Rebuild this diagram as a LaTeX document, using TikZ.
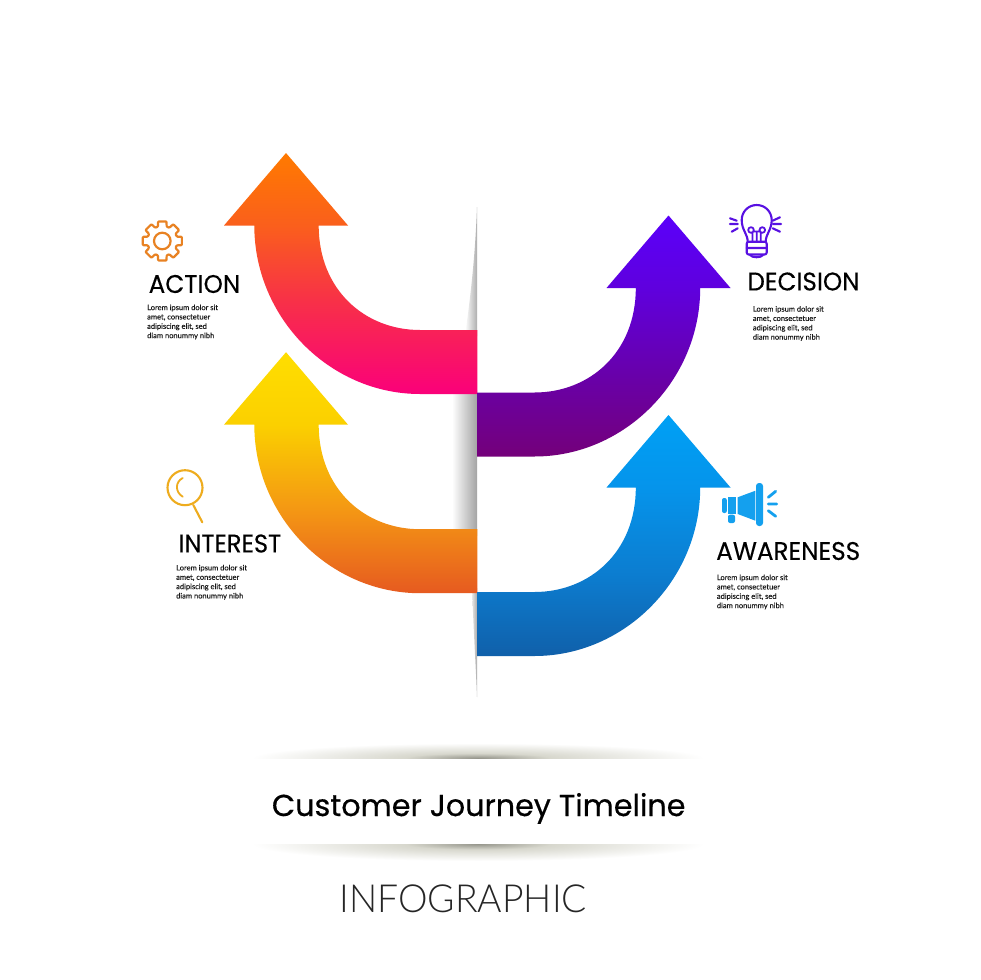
\documentclass[tikz,border=0pt]{standalone}
\usepackage{fontspec}
\usepackage{graphicx}
\setmainfont{Lato}[FakeBold=0.12]
\newfontfamily\headfont{Poppins}[FakeBold=0.2]
\newfontfamily\titlefont{Poppins}[FakeBold=0.55]
\newfontfamily\infofont{Lato Light}
\definecolor{glowcore}{RGB}{150,150,140}
\definecolor{glowmid}{RGB}{215,215,205}
\definecolor{gearcol}{RGB}{232,130,35}
\definecolor{lenscol}{RGB}{238,172,30}
\definecolor{bulbcol}{RGB}{88,16,226}
\definecolor{hornc}{RGB}{20,160,238}
\definecolor{actA}{RGB}{255,122,0}\definecolor{actB}{RGB}{250,95,28}\definecolor{actC}{RGB}{248,50,70}\definecolor{actD}{RGB}{250,0,122}
\definecolor{intA}{RGB}{255,222,0}\definecolor{intB}{RGB}{251,208,0}\definecolor{intC}{RGB}{244,150,20}\definecolor{intD}{RGB}{230,90,32}
\definecolor{decA}{RGB}{90,0,250}\definecolor{decB}{RGB}{95,0,222}\definecolor{decC}{RGB}{104,0,170}\definecolor{decD}{RGB}{116,0,122}
\definecolor{awaA}{RGB}{0,160,245}\definecolor{awaB}{RGB}{5,148,235}\definecolor{awaC}{RGB}{12,125,208}\definecolor{awaD}{RGB}{16,96,170}
% the path box maps to 25bp..75bp of the shading; the arrow runs from 0 (tip) to 241 units
\pgfdeclareverticalshading{actshade}{100bp}{color(0bp)=(actD);color(25bp)=(actD);color(45bp)=(actC);color(60bp)=(actB);color(75bp)=(actA);color(100bp)=(actA)}
\pgfdeclareverticalshading{intshade}{100bp}{color(0bp)=(intD);color(25bp)=(intD);color(42bp)=(intC);color(60bp)=(intB);color(75bp)=(intA);color(100bp)=(intA)}
\pgfdeclareverticalshading{decshade}{100bp}{color(0bp)=(decD);color(25bp)=(decD);color(42bp)=(decC);color(60bp)=(decB);color(75bp)=(decA);color(100bp)=(decA)}
\pgfdeclareverticalshading{awashade}{100bp}{color(0bp)=(awaD);color(25bp)=(awaD);color(42bp)=(awaC);color(60bp)=(awaB);color(75bp)=(awaA);color(100bp)=(awaA)}
\pgfdeclareradialshading{glowshade}{\pgfpointorigin}{color(0bp)=(glowcore);color(8bp)=(glowmid);color(25bp)=(white);color(50bp)=(white)}
\newcommand{\ArrowShape}{(286,153) -- (348,225.5) -- (318.7,225.5) .. controls (318.7,290) and (365,330) .. (420,330) -- (477.3,330) -- (477.3,394) -- (420,394) .. controls (330,394) and (254.3,318) .. (254.3,225.5) -- (224,225.5) -- cycle}
\tikzset{
  headtext/.style={inner sep=0pt,anchor=west,text=black},
  bodytext/.style={inner sep=0pt,anchor=west,align=left,text=black!90,font=\fontsize{7.5}{9.35}\selectfont},
  fold/.style={left color=white,right color=black!32},
  iconline/.style={line width=2.1pt,line cap=round,line join=round,fill=none}
}
\begin{document}
\begin{tikzpicture}[x=1pt,y=-1pt]
\useasboundingbox (0,0) rectangle (980,980);
\fill[white] (0,0) rectangle (980,980);
% fold shadow
\shade[fold] (477,207) .. controls (475,260) and (470,300) .. (465,336) -- (477,336) -- cycle;
\shade[left color=white,middle color=black!8,right color=black!36] (452,390) rectangle (477,535);
\shade[left color=black!10,right color=black!33] (472,588) -- (477,588) -- (477,697) .. controls (476,670) and (474,640) .. (472,588) -- cycle;
% arrows
\path[shading=actshade] \ArrowShape;
\begin{scope}[shift={(0,199.2)}]
\path[shading=intshade] \ArrowShape;
\end{scope}
\begin{scope}[shift={(954.5,62.5)},xscale=-1]
\path[shading=decshade] \ArrowShape;
\end{scope}
\begin{scope}[shift={(954.5,262)},xscale=-1]
\path[shading=awashade] \ArrowShape;
\end{scope}
% icons: gear
\begin{scope}[shift={(162.3,241)}]
\draw[iconline,gearcol,line width=2.2pt,rounded corners=0.8pt] (-17:15)
  \foreach \a in {0,45,...,315} { -- (\a-17:15) -- (\a-12:20) -- (\a+12:20) -- (\a+17:15) } -- cycle;
\draw[gearcol,line width=2.2pt] (0,0) circle (8.3);
\end{scope}
% magnifier
\draw[iconline,lenscol] (185,487.7) circle (17.5);
\draw[iconline,lenscol] (193.3,505) -- (202.3,522.3);
\draw[iconline,lenscol,line width=1.8pt] (182.7,478) .. controls (175,482) and (175,492) .. (182.7,496.7);
% bulb
\draw[iconline,bulbcol] (747.7,241.7) .. controls (747.7,234) and (741.7,230) .. (741.7,220) .. controls (741.7,212) and (748,205) .. (756.7,205) .. controls (765.4,205) and (771.7,212) .. (771.7,220) .. controls (771.7,230) and (765.7,234) .. (765.7,241.7);
\draw[iconline,bulbcol,line width=1.8pt] (751,230) circle (2.8) (762.3,230) circle (2.8)
  (752.5,232.5) -- (752.5,241) (760.8,232.5) -- (760.8,241) (756.7,233) -- (756.7,241) (753.5,231.5) -- (759.8,231.5);
\draw[iconline,bulbcol,rounded corners=2pt] (746.7,241.7) rectangle (766.7,254.5);
\draw[iconline,bulbcol] (746.7,248) -- (766.7,248) (750,255) .. controls (752,258) and (761,258) .. (763,255);
\draw[iconline,bulbcol] (730,218.3) -- (736.7,220.7) (730,224) -- (737.7,224) (731.7,231.7) -- (737.7,228.3)
  (772.7,220.7) -- (780,217.3) (773,224) -- (781,224) (772.7,228.3) -- (780,231.7);
% megaphone
\fill[hornc,rounded corners=3pt] (756,483) rectangle (763,526);
\fill[hornc] (755.4,490.7) -- (737.7,497.3) -- (737.7,514) -- (755.4,520.7) -- cycle;
\fill[hornc] (727.7,497) rectangle (735.9,514);
\fill[hornc,rounded corners=2pt] (726.8,498) -- (722,498) -- (722,513) -- (726.8,513) -- cycle;
\fill[hornc,rounded corners=2pt] (728,514.7) -- (735,514.7) -- (735,523) -- (728,523) -- cycle;
\draw[iconline,hornc,line width=2.8pt] (768.3,497.3) -- (775.7,491.3) (768.3,504) -- (776.7,504) (768.3,510.7) -- (775.7,516.3);
% headings
\node[headtext,font=\headfont] (action) at (148.5,284) {\resizebox{91.5pt}{18pt}{ACTION}};
\node[headtext,font=\headfont] (decision) at (747.3,281.5) {\resizebox{112pt}{18pt}{DECISION}};
\node[headtext,font=\headfont] (interest) at (178.3,543.5) {\resizebox{102.7pt}{18pt}{INTEREST}};
\node[headtext,font=\headfont] (awareness) at (716,551) {\resizebox{144pt}{18pt}{AWARENESS}};
% body
\node[bodytext] (actionbody) at (147,322) {Lorem ipsum dolor sit\\amet, consectetuer\\adipiscing elit, sed\\diam nonummy nibh};
\node[bodytext] (decisionbody) at (752.7,323.5) {Lorem ipsum dolor sit\\amet, consectetuer\\adipiscing elit, sed\\diam nonummy nibh};
\node[bodytext] (interestbody) at (176,582.3) {Lorem ipsum dolor sit\\amet, consectetuer\\adipiscing elit, sed\\diam nonummy nibh};
\node[bodytext] (awarenessbody) at (716.7,592) {Lorem ipsum dolor sit\\amet, consectetuer\\adipiscing elit, sed\\diam nonummy nibh};
% title band shadows
\begin{scope}
\clip (240,730) rectangle (720,758);
\shade[shading=glowshade] (478,758) ellipse (226 and 15);
\end{scope}
\begin{scope}
\clip (240,844) rectangle (720,875);
\shade[shading=glowshade] (478,844) ellipse (226 and 17);
\end{scope}
\node[headtext,anchor=base west,font=\titlefont] (title) at (271.7,816) {\resizebox{413.5pt}{!}{Customer Journey Timeline}};
\node[headtext,anchor=base west,font=\infofont,text=black!85] (info) at (339.3,912.5) {\resizebox{247.5pt}{27.7pt}{INFOGRAPHIC}};
\end{tikzpicture}
\end{document}
